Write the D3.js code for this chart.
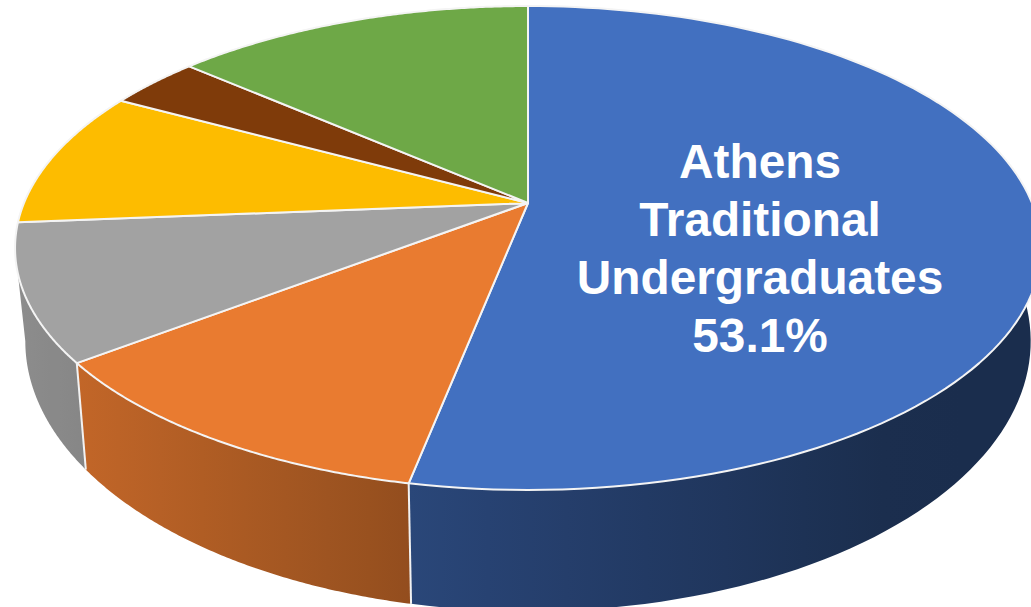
<!DOCTYPE html>
<html>
<head>
<meta charset="utf-8">
<style>
html,body{margin:0;padding:0;background:#fff;overflow:hidden}
svg{display:block}
</style>
<script src="https://cdn.jsdelivr.net/npm/d3@7/dist/d3.min.js"></script>
</head>
<body>
<svg id="chart" width="1031" height="607"></svg>
<script>
// Enrollment shares, clockwise from twelve o'clock
const categories = ["Athens Traditional Undergraduates","Segment B","Segment C","Segment D","Segment E","Segment F"];
const shares = [53.1, 11.5, 9.1, 9.2, 3.5, 13.6];
const colors = ["#4270c0","#e97b30","#a2a2a2","#fdbc00","#7f3b0a","#6ea847"];
const labelLines = ["Athens","Traditional","Undergraduates"];

const svg = d3.select("#chart");
const defs = svg.append("defs");

// Perspective disc: unit-circle coordinates projected to the screen
const apex = {x: 528, y: 203};
const tilt = 0.186, spreadX = 504, spreadY = 233.6;
const project = (a) => {
  const u = Math.sin(a), v = -Math.cos(a), w = 1 - tilt * v;
  return {dx: spreadX * u / w, dy: spreadY * v / w};
};
const topRim = (a) => {
  const p = project(a);
  return [apex.x + p.dx, apex.y + p.dy];
};
const bottomRim = (a) => {
  const p = project(a);
  return [apex.x + p.dx * 0.98, apex.y + 88 + p.dy * 1.116];
};

const arcs = d3.pie().sort(null).value(d => d)(shares);
const sweep = (start, end) => d3.range(0, 121).map(i => start + (end - start) * i / 120);
const line = d3.line();

// Side wall brightness falls off from left to right
const wallShade = d3.scaleLinear().domain([15, 410, 900]).range([0.87, 0.63, 0.4]).clamp(true);
const shaded = (c, x) => {
  const base = d3.rgb(c), k = wallShade(x);
  return d3.rgb(base.r * k, base.g * k, base.b * k).formatHex();
};

// Walls of the three slices that face the viewer; the last one stops at
// the disc's leftmost point, where its closing edge is the silhouette.
const silhouetteAngle = Math.PI + Math.acos(tilt);
arcs.slice(0, 3).forEach(d => {
  const angles = sweep(d.startAngle, Math.min(silhouetteAngle, d.endAngle));
  const rim = angles.map(topRim);
  const low = angles.map(bottomRim);
  const xs = rim.concat(low).map(p => p[0]);
  const x0 = d3.min(xs), x1 = d3.max(xs);
  const id = "wall" + d.index;
  const grad = defs.append("linearGradient").attr("id", id)
    .attr("gradientUnits", "userSpaceOnUse")
    .attr("x1", x0).attr("x2", x1).attr("y1", 0).attr("y2", 0);
  d3.range(0, 9).forEach(i => {
    const t = i / 8;
    grad.append("stop").attr("offset", t).attr("stop-color", shaded(colors[d.index], x0 + (x1 - x0) * t));
  });
  svg.append("path")
    .attr("d", line(rim.concat(low.slice().reverse())) + "Z")
    .attr("fill", `url(#${id})`);
});

// Seams between neighbouring walls
[arcs[0].endAngle, arcs[1].endAngle].forEach(a => {
  svg.append("path").attr("d", line([topRim(a), bottomRim(a)]))
    .attr("stroke", "#f2f2f2").attr("stroke-width", 2).attr("fill", "none");
});

// Top face of the disc
arcs.forEach(d => {
  const pts = [[apex.x, apex.y]].concat(sweep(d.startAngle, d.endAngle).map(topRim));
  svg.append("path")
    .attr("d", line(pts) + "Z")
    .attr("fill", colors[d.index])
    .attr("stroke", "#f4f4f4")
    .attr("stroke-width", 2)
    .attr("stroke-linejoin", "round");
});

// Label on the largest slice
const label = svg.append("text")
  .attr("text-anchor", "middle")
  .attr("fill", "#fff")
  .attr("font-family", "'Liberation Sans', Arial, sans-serif")
  .attr("font-weight", "bold")
  .attr("font-size", 47.8);
labelLines.concat([shares[0].toFixed(1) + "%"]).forEach((t, i) => {
  label.append("tspan").attr("x", 760).attr("y", 178 + i * 58).text(t);
});
</script>
</body>
</html>
